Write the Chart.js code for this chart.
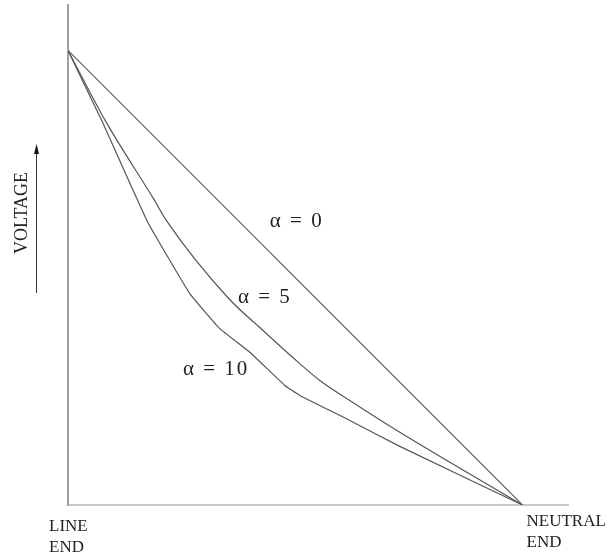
<!DOCTYPE html>
<html>
<head>
<meta charset="utf-8">
<script src="https://cdn.jsdelivr.net/npm/chart.js@4.4.1/dist/chart.umd.min.js"></script>
<style>
  html, body { margin: 0; padding: 0; background: #fff; }
  #wrap { width: 611px; height: 554px; position: relative; }
</style>
</head>
<body>
<div id="wrap"><canvas id="chart" width="611" height="554"></canvas></div>
<script>
// position along winding, % (0 = line end, 100 = neutral end)
const alpha0X = [0, 100];
const alpha0Y = [100, 0];

const alpha5X = [0, 8.3, 19.1, 21.7, 35.2, 42.9, 51.0, 55.4, 62.0, 73.0, 100];
const alpha5Y = [100, 84.4, 66.9, 62.5, 45.6, 38.4, 31.1, 27.4, 23.0, 16.0, 0];

const alpha10X = [0, 7.5, 17.4, 26.8, 33.4, 40.0, 47.7, 51.0, 62.0, 73.0, 100];
const alpha10Y = [100, 84.4, 62.5, 46.5, 38.8, 33.6, 26.3, 24.1, 18.6, 12.9, 0];

const curveLabels = ['\u03b1 = 0', '\u03b1 = 5', '\u03b1 = 10'];

const toPoints = (xs, ys) => xs.map((x, i) => ({ x: x, y: ys[i] }));

const serif = '"Liberation Serif", "DejaVu Serif", serif';

// text drawn around the plot: curve labels, end labels, y-axis caption + arrow
const annotate = {
    id: 'annotate',
    afterDraw(chart) {
        const ctx = chart.ctx;
        const xs = chart.scales.x, ys = chart.scales.y;
        const area = chart.chartArea;
        ctx.save();
        ctx.fillStyle = '#222';
        ctx.textBaseline = 'alphabetic';
        ctx.textAlign = 'left';

        // curve labels, anchored in data units
        const anchors = [[44.4, 61.2], [37.4, 44.4], [25.3, 28.6]];
        ctx.font = '21px ' + serif;
        ctx.letterSpacing = '2px';
        curveLabels.forEach((t, i) => {
            ctx.fillText(t, xs.getPixelForValue(anchors[i][0]), ys.getPixelForValue(anchors[i][1]));
        });
        ctx.letterSpacing = '0px';

        // end labels
        ctx.font = '17px ' + serif;
        const x0 = xs.getPixelForValue(0), x1 = xs.getPixelForValue(100);
        ctx.fillText('LINE', x0 - 19, area.bottom + 26);
        ctx.fillText('END', x0 - 19, area.bottom + 47);
        ctx.fillText('NEUTRAL', x1 + 4, area.bottom + 21);
        ctx.fillText('END', x1 + 4, area.bottom + 42);

        // rotated VOLTAGE caption
        ctx.save();
        ctx.font = '18px ' + serif;
        ctx.translate(27, 213);
        ctx.rotate(-Math.PI / 2);
        ctx.textAlign = 'center';
        ctx.fillText('VOLTAGE', 0, 0);
        ctx.restore();

        // arrow
        ctx.strokeStyle = '#333';
        ctx.lineWidth = 1;
        ctx.beginPath();
        ctx.moveTo(36.5, 293);
        ctx.lineTo(36.5, 150);
        ctx.stroke();
        ctx.fillStyle = '#111';
        ctx.beginPath();
        ctx.moveTo(36.5, 144);
        ctx.lineTo(34, 154);
        ctx.lineTo(39, 154);
        ctx.closePath();
        ctx.fill();
        ctx.restore();
    }
};

const lineStyle = (color) => ({
    borderColor: color,
    borderWidth: 1.2,
    pointRadius: 0,
    fill: false,
    showLine: true
});

new Chart(document.getElementById('chart'), {
    type: 'scatter',
    data: {
        datasets: [
            Object.assign({ label: curveLabels[0], data: toPoints(alpha0X, alpha0Y) }, lineStyle('#666')),
            Object.assign({ label: curveLabels[1], data: toPoints(alpha5X, alpha5Y), cubicInterpolationMode: 'monotone' }, lineStyle('#555')),
            Object.assign({ label: curveLabels[2], data: toPoints(alpha10X, alpha10Y), tension: 0.1 }, lineStyle('#555'))
        ]
    },
    options: {
        responsive: false,
        animation: false,
        layout: { padding: { left: 68, right: 43, top: 5, bottom: 49 } },
        plugins: { legend: { display: false }, tooltip: { enabled: false } },
        scales: {
            x: {
                type: 'linear', min: 0, max: 110,
                ticks: { display: false },
                grid: { display: false, drawTicks: false },
                border: { display: true, color: '#c8c8c8', width: 2 }
            },
            y: {
                type: 'linear', min: 0, max: 110,
                ticks: { display: false },
                grid: { display: false, drawTicks: false },
                border: { display: true, color: '#a0a0a0', width: 2 }
            }
        }
    },
    plugins: [annotate]
});
</script>
</body>
</html>
